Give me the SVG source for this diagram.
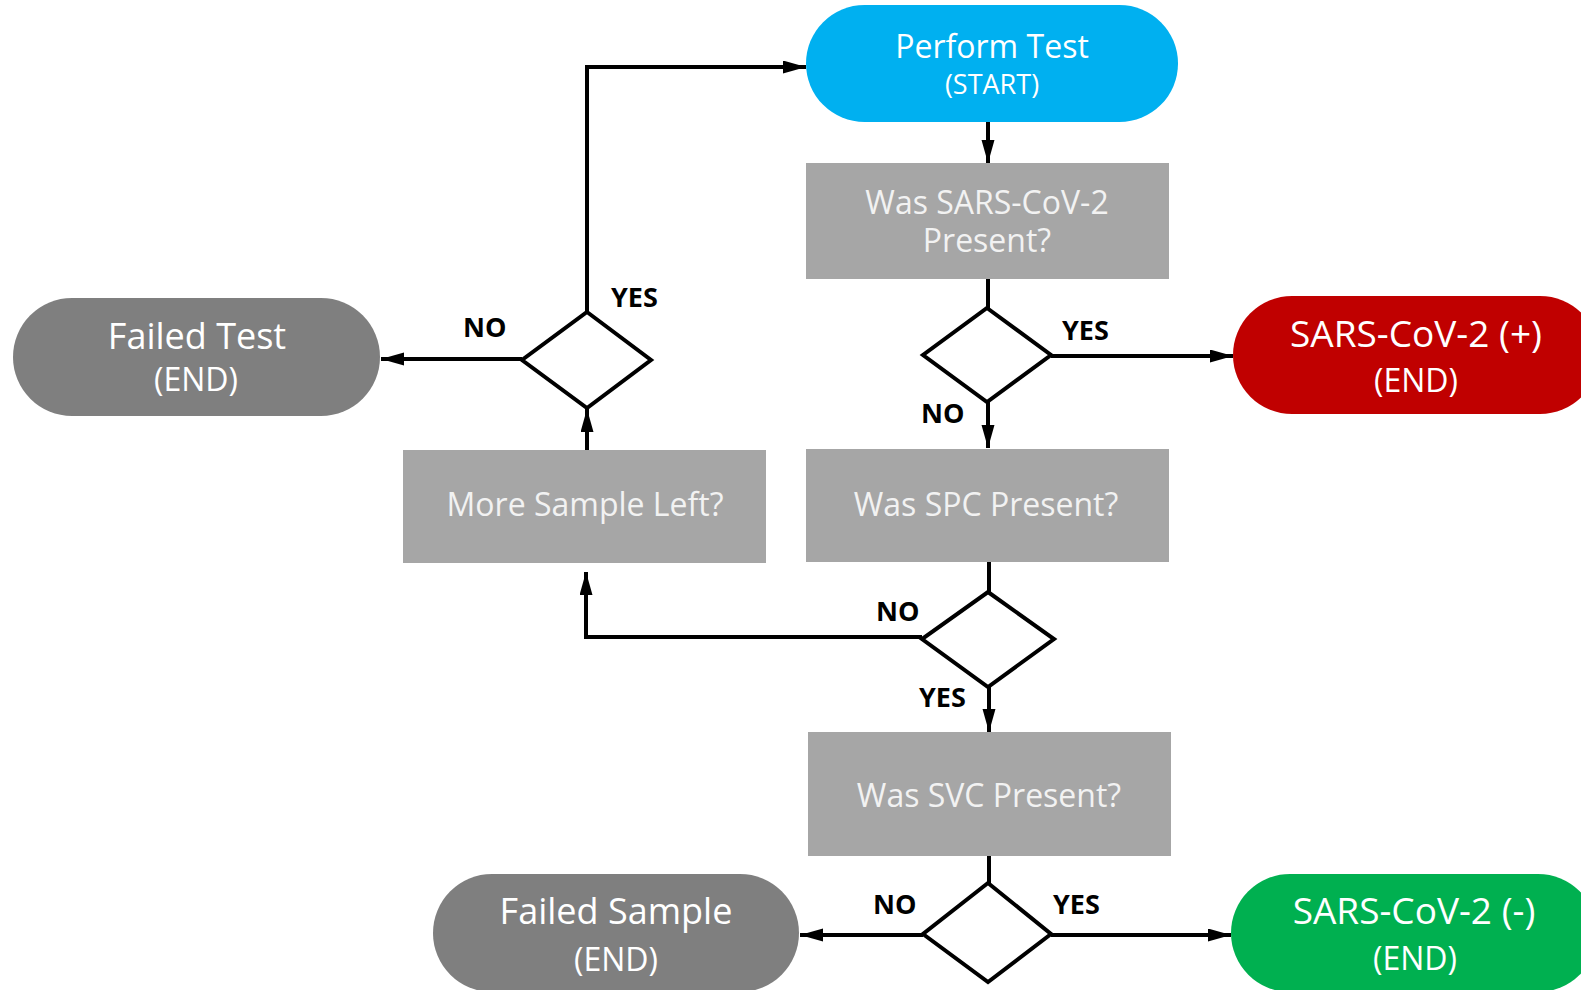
<svg xmlns="http://www.w3.org/2000/svg" width="1581" height="990" viewBox="0 0 1581 990">
<defs>
<marker id="arr" markerUnits="userSpaceOnUse" markerWidth="24" markerHeight="14" refX="23" refY="6.5" orient="auto">
<path d="M0,0 L23,6.5 L0,13 z" fill="#000"/>
</marker>
<style>
.pill text,.box text{font-family:"Open Sans","Liberation Sans",sans-serif;fill:#fff;text-anchor:middle}
.box rect{fill:#a6a6a6}
.box text{fill:#f2f2f2;font-size:32px}
.dia{fill:#fff;stroke:#000;stroke-width:4;stroke-linejoin:miter}
.lbl{font-family:"Open Sans","Liberation Sans",sans-serif;font-weight:bold;font-size:27px;fill:#000}
.c{fill:none;stroke:#000;stroke-width:4}
.ca{fill:none;stroke:#000;stroke-width:4;marker-end:url(#arr)}
</style>
</defs>
<rect width="1581" height="990" fill="#fff"/>

<g id="start" class="pill">
<rect x="806" y="5" width="372" height="117" rx="58.5" fill="#00b0f0"/>
<text x="992" y="58" font-size="32">Perform Test</text>
<text x="992" y="94" font-size="27">(START)</text>
</g>

<g id="q-sars" class="box">
<rect x="806" y="163" width="363" height="116"/>
<text x="987" y="214">Was SARS-CoV-2<tspan x="987" dy="38">Present?</tspan></text>
</g>

<g id="d-sars"><path class="dia" d="M987,308 L1051,355 L987,402 L923,355 z"/></g>

<g id="positive" class="pill">
<rect x="1233" y="296" width="366" height="118" rx="59" fill="#c00000"/>
<text x="1416" y="347" font-size="37">SARS-CoV-2 (+)</text>
<text x="1416" y="392" font-size="32">(END)</text>
</g>

<g id="q-spc" class="box">
<rect x="806" y="449" width="363" height="113"/>
<text x="986" y="516">Was SPC Present?</text>
</g>

<g id="d-spc"><path class="dia" d="M988,592 L1054,639 L988,687 L922,639 z"/></g>

<g id="q-more" class="box">
<rect x="403" y="450" width="363" height="113"/>
<text x="585" y="516">More Sample Left?</text>
</g>

<g id="d-more"><path class="dia" d="M587,312 L651,360 L587,408 L522,360 z"/></g>

<g id="failed-test" class="pill">
<rect x="13" y="298" width="367" height="118" rx="59" fill="#7f7f7f"/>
<text x="197" y="349" font-size="36">Failed Test</text>
<text x="196" y="391" font-size="32">(END)</text>
</g>

<g id="q-svc" class="box">
<rect x="808" y="732" width="363" height="124"/>
<text x="989" y="807">Was SVC Present?</text>
</g>

<g id="d-svc"><path class="dia" d="M988,883 L1051,934 L988,982 L923,934 z"/></g>

<g id="failed-sample" class="pill">
<rect x="433" y="874" width="366" height="118" rx="59" fill="#7f7f7f"/>
<text x="616" y="924" font-size="36">Failed Sample</text>
<text x="616" y="971" font-size="32">(END)</text>
</g>

<g id="negative" class="pill">
<rect x="1231" y="874" width="366" height="118" rx="59" fill="#00b050"/>
<text x="1414" y="924" font-size="37">SARS-CoV-2 (-)</text>
<text x="1415" y="970" font-size="32">(END)</text>
</g>

<g id="connectors">
<path class="ca" d="M988,122 L988,163"/>
<path class="c" d="M988,279 L988,308"/>
<path class="ca" d="M1051,356 L1233,356"/>
<path class="ca" d="M988,402 L988,448"/>
<path class="c" d="M989,562 L989,592"/>
<path class="ca" d="M922,637 L586,637 L586,572"/>
<path class="ca" d="M989,687 L989,732"/>
<path class="ca" d="M587,450 L587,409"/>
<path class="ca" d="M522,359 L381,359"/>
<path class="ca" d="M587,312 L587,67 L806,67"/>
<path class="c" d="M989,856 L989,883"/>
<path class="ca" d="M923,935 L800,935"/>
<path class="ca" d="M1051,935 L1231,935"/>
</g>

<g id="labels">
<text class="lbl" x="1062" y="340">YES</text>
<text class="lbl" x="921" y="423">NO</text>
<text class="lbl" x="611" y="307">YES</text>
<text class="lbl" x="463" y="337">NO</text>
<text class="lbl" x="876" y="621">NO</text>
<text class="lbl" x="919" y="707">YES</text>
<text class="lbl" x="873" y="914">NO</text>
<text class="lbl" x="1053" y="914">YES</text>
</g>
</svg>
